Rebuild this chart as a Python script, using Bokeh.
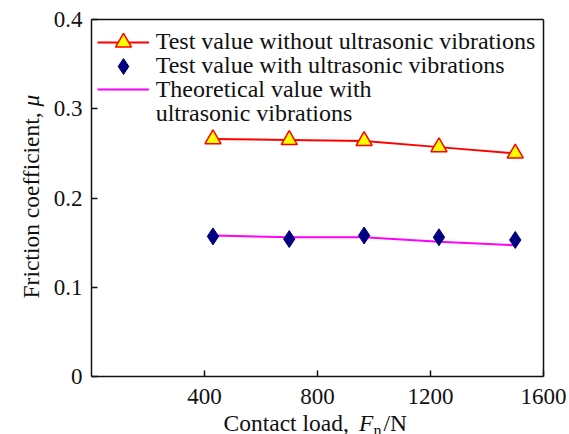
from bokeh.plotting import figure
from bokeh.models import Range1d, FixedTicker, Legend, LegendItem, Label, LinearAxis
from bokeh.embed import file_html
from bokeh.resources import INLINE
from math import pi

# ---- data ----
contact_load = [430, 700, 965, 1230, 1500]                 # N
mu_test_without_uv = [0.266, 0.265, 0.264, 0.257, 0.250]   # red triangles / red line
mu_test_with_uv = [0.157, 0.154, 0.158, 0.156, 0.153]      # navy diamonds
mu_theory_with_uv = [0.158, 0.156, 0.156, 0.151, 0.147]    # magenta line
x_ticks = [400, 800, 1200, 1600]
y_ticks = [0, 0.1, 0.2, 0.3, 0.4]
y_tick_labels = ["0", "0.1", "0.2", "0.3", "0.4"]
x_lim = (0, 1600)
y_lim = (0, 0.4)
legend_labels = ["Test value without ultrasonic vibrations",
                 "Test value with ultrasonic vibrations",
                 "Theoretical value with",
                 "ultrasonic vibrations"]

FONT = "Liberation Serif"
FS = "23.5px"
INK = "#111111"

W, H = 569, 434
FL, FT, FR, FB = 91, 19, 543, 376   # plot box edges in canvas px

# the frame covers the whole canvas; the plot box is drawn by fixed-location axes
sx = (x_lim[1] - x_lim[0]) / (FR - FL)
sy = (y_lim[1] - y_lim[0]) / (FB - FT)
x_range = Range1d(x_lim[0] - FL * sx, x_lim[1] + (W - FR) * sx)
y_range = Range1d(y_lim[0] - (H - FB) * sy, y_lim[1] + FT * sy)

p = figure(width=W, height=H, x_range=x_range, y_range=y_range,
           output_backend="svg", toolbar_location=None,
           x_axis_location=None, y_axis_location=None, min_border=0)
p.background_fill_color = "white"
p.border_fill_color = "white"
p.outline_line_color = None
p.grid.visible = False


def style_axis(ax, ticks, show_labels=True):
    ax.ticker = FixedTicker(ticks=ticks)
    ax.axis_line_color = INK
    ax.axis_line_width = 1.5
    ax.major_tick_in = 6
    ax.major_tick_out = 0
    ax.major_tick_line_color = INK
    ax.major_tick_line_width = 1.5
    ax.minor_tick_line_color = None
    ax.major_label_text_font = FONT
    ax.major_label_text_font_size = "23px"
    ax.major_label_text_color = INK
    if not show_labels:
        ax.major_label_text_alpha = 0


xb = LinearAxis(fixed_location=y_lim[0], bounds=x_lim)
style_axis(xb, x_ticks)
xb.major_label_standoff = 12
p.add_layout(xb, "below")

yl = LinearAxis(fixed_location=x_lim[0], bounds=y_lim)
style_axis(yl, y_ticks)
yl.major_label_overrides = {t: s for t, s in zip(y_ticks, y_tick_labels)}
yl.major_label_standoff = 9
p.add_layout(yl, "left")

xt = LinearAxis(fixed_location=y_lim[1], bounds=x_lim)
style_axis(xt, [], show_labels=False)
p.add_layout(xt, "above")

yr = LinearAxis(fixed_location=x_lim[1], bounds=y_lim)
style_axis(yr, [], show_labels=False)
p.add_layout(yr, "right")

red_line = p.line(contact_load, mu_test_without_uv, line_color="#ff0000", line_width=2)
tri = p.scatter(contact_load, mu_test_without_uv, marker="triangle", size=16,
                fill_color="#ffff00", line_color="#ff0000", line_width=1.5)
mag_line = p.line(contact_load, mu_theory_with_uv, line_color="#ff00ff", line_width=2)
dia = p.scatter(contact_load, mu_test_with_uv, marker="diamond", size=17,
                fill_color="#000080", line_color="#000080", line_width=1)
blank = p.line(x=[], y=[], line_alpha=0)

GH = 40
row_renderers = [[red_line, tri], [dia], [mag_line], [blank]]
row_centers = [41.5, 65.5, 89.3, 113.0]   # canvas px
for label, rends, cy in zip(legend_labels, row_renderers, row_centers):
    lg = Legend(items=[LegendItem(label=label, renderers=rends)])
    lg.label_text_font = FONT
    lg.label_text_font_size = "24px"
    lg.label_text_color = INK
    lg.label_standoff = 7
    lg.glyph_width = 52
    lg.glyph_height = GH
    lg.label_height = GH
    lg.spacing = 0
    lg.padding = 0
    lg.margin = 0
    lg.border_line_alpha = 0
    lg.background_fill_alpha = 0
    lg.location = (96.7, H - (cy + GH / 2))
    p.add_layout(lg, "center")


def lab(text, cx, cy, italic=False, size=FS, angle=0.0):
    p.add_layout(Label(x=cx, y=H - cy, x_units="screen", y_units="screen",
                       text=text, text_font=FONT, text_font_size=size,
                       text_font_style="italic" if italic else "normal",
                       text_color=INK, text_align="left",
                       text_baseline="alphabetic", angle=angle))


# x-axis title: Contact load, F_n/N
lab("Contact load,", 223.0, 422.5)
lab("F", 358.5, 422.5, italic=True)
lab("n", 373.0, 429.5, size="16px")
lab("/N", 383.0, 422.5)

# y-axis title: Friction coefficient, mu
lab("Friction coefficient,", 30.0, 298.0, angle=pi / 2)
lab("\u03bc", 30.0, 106.0, italic=True, angle=pi / 2)

open("out.html", "w").write(file_html(p, INLINE))
